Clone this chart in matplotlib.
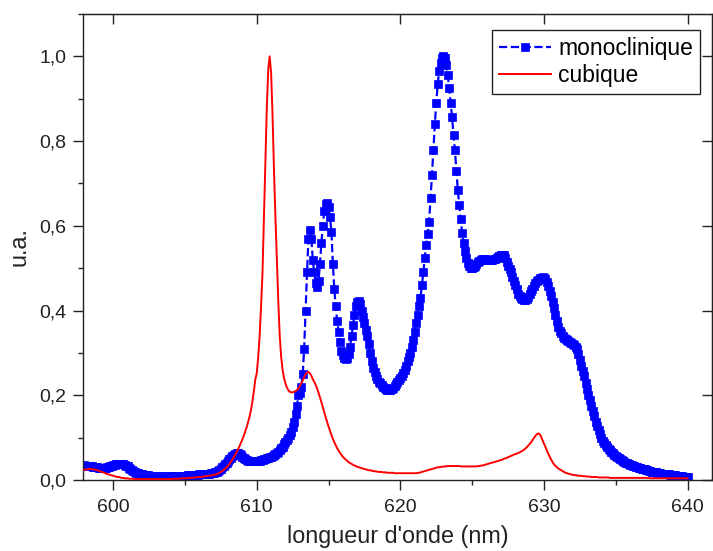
import numpy as np
import matplotlib.pyplot as plt
from matplotlib.ticker import MultipleLocator, FuncFormatter

plt.rcParams['font.family'] = ['Liberation Sans', 'DejaVu Sans']

# wavelength grid (nm), 0.1 nm step, 598.0 .. 640.0
wavelength = np.round(np.arange(598.0, 640.05, 0.1), 1)

monoclinique = [
    0.035, 0.034, 0.034, 0.033, 0.033, 0.032, 0.031, 0.031, 0.030, 0.030,  # 598
    0.029, 0.029, 0.028, 0.028, 0.028, 0.029, 0.030, 0.031, 0.032, 0.034,  # 599
    0.035, 0.036, 0.037, 0.038, 0.038, 0.038, 0.038, 0.037, 0.036, 0.034,  # 600
    0.032, 0.029, 0.026, 0.023, 0.021, 0.019, 0.017, 0.016, 0.015, 0.014,  # 601
    0.013, 0.012, 0.012, 0.011, 0.011, 0.010, 0.010, 0.010, 0.009, 0.009,  # 602
    0.009, 0.009, 0.009, 0.009, 0.009, 0.009, 0.009, 0.009, 0.009, 0.009,  # 603
    0.009, 0.009, 0.009, 0.009, 0.009, 0.010, 0.010, 0.010, 0.010, 0.010,  # 604
    0.010, 0.010, 0.011, 0.011, 0.011, 0.011, 0.012, 0.012, 0.012, 0.012,  # 605
    0.013, 0.013, 0.013, 0.014, 0.014, 0.014, 0.015, 0.015, 0.016, 0.016,  # 606
    0.017, 0.018, 0.020, 0.022, 0.024, 0.027, 0.030, 0.033, 0.037, 0.041,  # 607
    0.045, 0.049, 0.053, 0.057, 0.060, 0.062, 0.063, 0.063, 0.061, 0.058,  # 608
    0.055, 0.052, 0.049, 0.047, 0.046, 0.045, 0.044, 0.044, 0.044, 0.044,  # 609
    0.045, 0.045, 0.046, 0.047, 0.048, 0.049, 0.050, 0.051, 0.052, 0.054,  # 610
    0.055, 0.057, 0.059, 0.061, 0.064, 0.067, 0.071, 0.075, 0.079, 0.084,  # 611
    0.089, 0.094, 0.100, 0.106, 0.114, 0.125, 0.138, 0.155, 0.175, 0.200,  # 612
    0.205, 0.220, 0.250, 0.310, 0.400, 0.490, 0.570, 0.590, 0.570, 0.520,  # 613
    0.490, 0.465, 0.455, 0.470, 0.510, 0.560, 0.600, 0.635, 0.652, 0.655,  # 614
    0.645, 0.620, 0.585, 0.510, 0.450, 0.410, 0.375, 0.350, 0.325, 0.305,  # 615
    0.295, 0.288, 0.285, 0.288, 0.298, 0.315, 0.340, 0.365, 0.390, 0.410,  # 616
    0.420, 0.422, 0.415, 0.400, 0.385, 0.370, 0.355, 0.340, 0.320, 0.300,  # 617
    0.280, 0.265, 0.255, 0.245, 0.238, 0.232, 0.228, 0.224, 0.220, 0.217,  # 618
    0.214, 0.212, 0.212, 0.213, 0.215, 0.218, 0.222, 0.226, 0.231, 0.236,  # 619
    0.240, 0.246, 0.252, 0.260, 0.270, 0.280, 0.290, 0.300, 0.315, 0.330,  # 620
    0.350, 0.370, 0.390, 0.410, 0.430, 0.460, 0.490, 0.525, 0.555, 0.580,  # 621
    0.610, 0.665, 0.720, 0.780, 0.840, 0.890, 0.935, 0.965, 0.985, 0.995,  # 622
    1.000, 0.995, 0.980, 0.955, 0.925, 0.890, 0.856, 0.815, 0.778, 0.730,  # 623
    0.684, 0.650, 0.615, 0.583, 0.560, 0.540, 0.525, 0.512, 0.505, 0.500,  # 624
    0.500, 0.502, 0.506, 0.510, 0.515, 0.518, 0.520, 0.521, 0.522, 0.521,  # 625
    0.520, 0.519, 0.519, 0.519, 0.520, 0.521, 0.522, 0.524, 0.526, 0.528,  # 626
    0.530, 0.531, 0.530, 0.525, 0.515, 0.505, 0.497, 0.490, 0.480, 0.470,  # 627
    0.460, 0.450, 0.440, 0.435, 0.430, 0.427, 0.425, 0.425, 0.427, 0.432,  # 628
    0.438, 0.445, 0.452, 0.458, 0.464, 0.469, 0.473, 0.476, 0.478, 0.479,  # 629
    0.478, 0.474, 0.467, 0.458, 0.447, 0.435, 0.420, 0.405, 0.390, 0.375,  # 630
    0.360, 0.352, 0.346, 0.340, 0.336, 0.333, 0.330, 0.328, 0.326, 0.324,  # 631
    0.322, 0.318, 0.315, 0.310, 0.298, 0.284, 0.270, 0.258, 0.245, 0.230,  # 632
    0.215, 0.200, 0.189, 0.175, 0.162, 0.150, 0.138, 0.127, 0.117, 0.108,  # 633
    0.100, 0.093, 0.087, 0.082, 0.078, 0.074, 0.070, 0.066, 0.063, 0.060,  # 634
    0.057, 0.054, 0.052, 0.049, 0.047, 0.045, 0.043, 0.041, 0.040, 0.038,  # 635
    0.036, 0.035, 0.033, 0.032, 0.031, 0.030, 0.029, 0.028, 0.027, 0.026,  # 636
    0.025, 0.024, 0.023, 0.022, 0.021, 0.020, 0.019, 0.019, 0.018, 0.017,  # 637
    0.016, 0.016, 0.015, 0.015, 0.014, 0.014, 0.013, 0.013, 0.012, 0.012,  # 638
    0.011, 0.011, 0.010, 0.010, 0.010, 0.009, 0.009, 0.008, 0.008, 0.008,  # 639
    0.007,                                                                 # 640
]

cubique = [
    0.024, 0.025, 0.025, 0.026, 0.026, 0.026, 0.025, 0.025, 0.024, 0.023,  # 598
    0.022, 0.021, 0.019, 0.018, 0.017, 0.015, 0.014, 0.013, 0.012, 0.011,  # 599
    0.010, 0.009, 0.008, 0.007, 0.007, 0.006, 0.005, 0.005, 0.004, 0.004,  # 600
    0.004, 0.003, 0.003, 0.003, 0.003, 0.002, 0.002, 0.002, 0.002, 0.002,  # 601
    0.002, 0.002, 0.002, 0.002, 0.002, 0.002, 0.002, 0.002, 0.002, 0.002,  # 602
    0.002, 0.002, 0.002, 0.002, 0.002, 0.002, 0.002, 0.002, 0.002, 0.002,  # 603
    0.002, 0.002, 0.003, 0.003, 0.003, 0.003, 0.003, 0.004, 0.004, 0.004,  # 604
    0.004, 0.004, 0.005, 0.005, 0.005, 0.005, 0.006, 0.006, 0.006, 0.007,  # 605
    0.007, 0.007, 0.008, 0.008, 0.009, 0.009, 0.010, 0.010, 0.011, 0.011,  # 606
    0.012, 0.013, 0.014, 0.015, 0.017, 0.019, 0.021, 0.024, 0.027, 0.030,  # 607
    0.034, 0.038, 0.043, 0.048, 0.054, 0.060, 0.066, 0.073, 0.080, 0.088,  # 608
    0.096, 0.105, 0.115, 0.125, 0.137, 0.150, 0.166, 0.186, 0.210, 0.238,  # 609
    0.252, 0.290, 0.340, 0.410, 0.490, 0.620, 0.760, 0.880, 0.970, 1.000,  # 610
    0.960, 0.860, 0.730, 0.620, 0.520, 0.420, 0.340, 0.290, 0.260, 0.240,  # 611
    0.228, 0.218, 0.212, 0.208, 0.207, 0.207, 0.208, 0.210, 0.212, 0.216,  # 612
    0.222, 0.228, 0.235, 0.242, 0.250, 0.254, 0.255, 0.252, 0.246, 0.238,  # 613
    0.232, 0.225, 0.216, 0.206, 0.195, 0.184, 0.172, 0.160, 0.148, 0.137,  # 614
    0.126, 0.116, 0.106, 0.097, 0.089, 0.082, 0.075, 0.069, 0.064, 0.059,  # 615
    0.055, 0.051, 0.048, 0.045, 0.042, 0.040, 0.038, 0.036, 0.034, 0.033,  # 616
    0.031, 0.030, 0.029, 0.028, 0.027, 0.026, 0.025, 0.024, 0.023, 0.023,  # 617
    0.022, 0.021, 0.021, 0.020, 0.020, 0.019, 0.019, 0.019, 0.018, 0.018,  # 618
    0.018, 0.017, 0.017, 0.017, 0.017, 0.017, 0.016, 0.016, 0.016, 0.016,  # 619
    0.016, 0.016, 0.016, 0.016, 0.016, 0.016, 0.016, 0.016, 0.016, 0.016,  # 620
    0.016, 0.016, 0.017, 0.017, 0.018, 0.019, 0.020, 0.021, 0.022, 0.023,  # 621
    0.024, 0.025, 0.026, 0.027, 0.028, 0.029, 0.030, 0.030, 0.031, 0.031,  # 622
    0.032, 0.032, 0.032, 0.033, 0.033, 0.033, 0.033, 0.033, 0.033, 0.033,  # 623
    0.033, 0.033, 0.032, 0.032, 0.032, 0.032, 0.032, 0.032, 0.032, 0.032,  # 624
    0.032, 0.032, 0.032, 0.032, 0.033, 0.033, 0.034, 0.034, 0.035, 0.036,  # 625
    0.037, 0.038, 0.039, 0.040, 0.041, 0.042, 0.043, 0.044, 0.045, 0.046,  # 626
    0.047, 0.048, 0.050, 0.051, 0.052, 0.054, 0.055, 0.057, 0.058, 0.060,  # 627
    0.061, 0.062, 0.064, 0.065, 0.067, 0.069, 0.071, 0.074, 0.077, 0.081,  # 628
    0.085, 0.089, 0.094, 0.099, 0.104, 0.108, 0.110, 0.108, 0.102, 0.094,  # 629
    0.086, 0.078, 0.070, 0.062, 0.055, 0.048, 0.042, 0.037, 0.033, 0.030,  # 630
    0.027, 0.025, 0.023, 0.021, 0.019, 0.017, 0.016, 0.015, 0.014, 0.013,  # 631
    0.012, 0.012, 0.011, 0.011, 0.010, 0.010, 0.010, 0.009, 0.009, 0.009,  # 632
    0.008, 0.008, 0.008, 0.007, 0.007, 0.007, 0.007, 0.007, 0.006, 0.006,  # 633
    0.006, 0.006, 0.006, 0.006, 0.006, 0.006, 0.005, 0.005, 0.005, 0.005,  # 634
    0.005, 0.005, 0.005, 0.005, 0.005, 0.005, 0.005, 0.005, 0.005, 0.005,  # 635
    0.005, 0.005, 0.005, 0.005, 0.005, 0.005, 0.005, 0.005, 0.005, 0.005,  # 636
    0.005, 0.005, 0.005, 0.005, 0.004, 0.004, 0.004, 0.004, 0.004, 0.004,  # 637
    0.004, 0.004, 0.004, 0.004, 0.004, 0.004, 0.004, 0.004, 0.004, 0.004,  # 638
    0.004, 0.004, 0.004, 0.004, 0.004, 0.004, 0.004, 0.004, 0.004, 0.004,  # 639
    0.004,                                                                 # 640
]

fig = plt.figure(figsize=(7.13, 5.51), dpi=100)
ax = fig.add_axes([83 / 713, 71 / 551, 629 / 713, 466 / 551])

ax.plot(wavelength, monoclinique, color='#0000ff', linestyle='--', linewidth=1.6,
        marker='s', markersize=5.5, markeredgewidth=0.5, label='monoclinique', zorder=2)
ax.plot(wavelength, cubique, color='#ff0000', linewidth=1.4, label='cubique', zorder=3)

ax.set_xlim(597.9, 641.7)
ax.set_ylim(0, 1.1)

comma = FuncFormatter(lambda v, pos: ('%.1f' % v).replace('.', ','))
ax.xaxis.set_major_locator(MultipleLocator(10))
ax.xaxis.set_minor_locator(MultipleLocator(5))
ax.yaxis.set_major_locator(MultipleLocator(0.2))
ax.yaxis.set_minor_locator(MultipleLocator(0.1))
ax.yaxis.set_major_formatter(comma)
ax.tick_params(which='major', direction='out', length=7, width=1, labelsize=14, colors='#222222')
ax.tick_params(which='minor', direction='out', length=3.5, width=1, colors='#222222')
ax.tick_params(axis='x', pad=7)
ax.tick_params(axis='y', pad=5)

# top / right ticks pointing inward, no labels
top = ax.secondary_xaxis('top')
top.xaxis.set_major_locator(MultipleLocator(10))
top.tick_params(direction='in', length=7, width=1, labeltop=False, colors='#222222')
right = ax.secondary_yaxis('right')
right.yaxis.set_major_locator(MultipleLocator(0.2))
right.tick_params(direction='in', length=7, width=1, labelright=False, colors='#222222')

for s in ax.spines.values():
    s.set_color('#222222')
    s.set_linewidth(1)
top.spines['top'].set_color('#222222')
right.spines['right'].set_color('#222222')

ax.set_xlabel("longueur d'onde (nm)", fontsize=16.8, color='#222222', labelpad=6)
ax.set_ylabel('u.a.', fontsize=16.8, color='#222222', labelpad=6)

leg = ax.legend(loc='upper right', bbox_to_anchor=(700 / 713, 1 - 30 / 551),
                bbox_transform=fig.transFigure, fontsize=16.5, fancybox=False,
                edgecolor='#222222', framealpha=1, numpoints=1, handlelength=2.3,
                borderaxespad=0, borderpad=0.3, labelspacing=0.2, handletextpad=0.3)
leg.get_frame().set_linewidth(1)

plt.savefig('out.png', dpi=100)
